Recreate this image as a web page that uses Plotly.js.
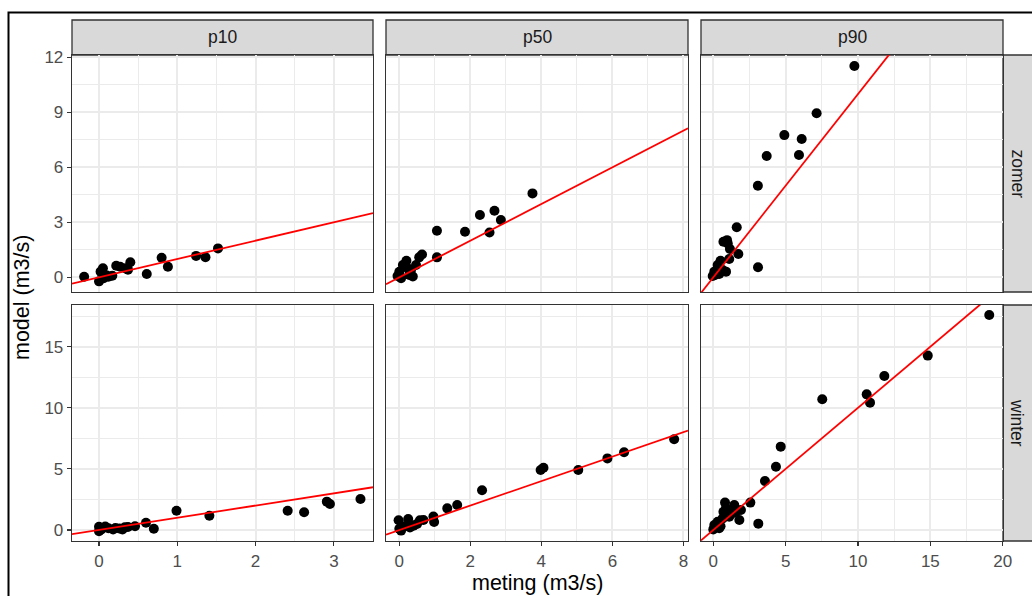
<!DOCTYPE html>
<html><head><meta charset="utf-8">
<script src="https://cdn.plot.ly/plotly-3.0.1.min.js"></script>
<style>html,body{margin:0;padding:0;background:#fff}#chart{width:1032px;height:596px}</style>
</head><body><div id="chart"></div>
<script>
// Categories
const percentiles = ['p10', 'p50', 'p90'];
const seasons = ['zomer', 'winter'];

// Tick labels per column (x) and per row (y)
const colTicks = [[0, 1, 2, 3], [0, 2, 4, 6, 8], [0, 5, 10, 15, 20]];
const rowTicks = [[0, 3, 6, 9, 12], [0, 5, 10, 15]];

// Data: meting (x) and model (y) per facet
const p10_zomer_meting = [-0.19, 0.0, 0.02, 0.05, 0.06, 0.1, 0.12, 0.17, 0.22, 0.27, 0.34, 0.37, 0.4, 0.61, 0.8, 0.88, 1.24, 1.36, 1.52];
const p10_zomer_model  = [0.03, -0.22, 0.31, 0.49, -0.05, 0.1, 0.03, 0.09, 0.63, 0.58, 0.49, 0.42, 0.82, 0.18, 1.07, 0.58, 1.17, 1.1, 1.58];

const p50_zomer_meting = [-0.05, 0.0, 0.05, 0.1, 0.2, 0.24, 0.28, 0.33, 0.38, 0.47, 0.56, 0.64, 1.06, 1.06, 1.85, 2.27, 2.54, 2.68, 2.86, 3.75];
const p50_zomer_model  = [0.07, 0.3, -0.05, 0.67, 0.9, 0.49, 0.13, 0.4, 0.05, 0.67, 1.09, 1.25, 1.09, 2.54, 2.49, 3.4, 2.45, 3.63, 3.13, 4.58];

const p90_zomer_meting = [-0.04, 0.07, 0.12, 0.3, 0.41, 0.5, 0.65, 0.7, 0.88, 0.95, 1.0, 1.1, 1.15, 1.73, 1.62, 3.08, 3.09, 3.69, 4.91, 5.92, 6.11, 7.14, 9.75];
const p90_zomer_model  = [0.07, 0.31, 0.13, 0.67, 0.18, 0.9, 0.4, 1.94, 0.31, 2.03, 1.85, 1.0, 1.55, 1.27, 2.73, 5.0, 0.55, 6.62, 7.76, 6.67, 7.55, 8.95, 11.53];

const p10_winter_meting = [0.0, 0.0, 0.03, 0.08, 0.12, 0.18, 0.21, 0.26, 0.3, 0.33, 0.37, 0.46, 0.6, 0.7, 0.99, 1.41, 2.41, 2.62, 2.91, 2.95, 3.34];
const p10_winter_model  = [0.27, -0.1, 0.05, 0.28, 0.15, 0.05, 0.16, 0.12, 0.05, 0.22, 0.25, 0.3, 0.6, 0.1, 1.58, 1.17, 1.58, 1.45, 2.32, 2.13, 2.54];

const p50_winter_meting = [-0.02, 0.0, 0.05, 0.15, 0.25, 0.3, 0.4, 0.5, 0.58, 0.68, 0.96, 0.98, 1.35, 1.63, 2.33, 3.98, 4.06, 5.04, 5.86, 6.33, 7.74];
const p50_winter_model  = [0.8, 0.1, -0.05, 0.3, 0.9, 0.2, 0.35, 0.5, 0.8, 0.82, 1.1, 0.65, 1.77, 2.05, 3.25, 4.91, 5.1, 4.91, 5.86, 6.36, 7.42];

const p90_winter_meting = [0.0, 0.07, 0.3, 0.41, 0.5, 0.65, 0.81, 0.88, 0.7, 1.1, 1.34, 1.45, 1.57, 1.8, 1.91, 2.56, 3.11, 3.57, 4.33, 4.66, 7.53, 10.6, 10.83, 11.82, 14.82, 19.07];
const p90_winter_model  = [0.05, 0.41, 0.68, 0.15, 0.3, 0.95, 2.24, 1.77, 1.5, 1.09, 1.37, 2.05, 1.5, 0.82, 1.64, 2.24, 0.52, 4.01, 5.18, 6.82, 10.7, 11.1, 10.42, 12.6, 14.27, 17.59];

const facetData = {
  zomer:  [[p10_zomer_meting, p10_zomer_model], [p50_zomer_meting, p50_zomer_model], [p90_zomer_meting, p90_zomer_model]],
  winter: [[p10_winter_meting, p10_winter_model], [p50_winter_meting, p50_winter_model], [p90_winter_meting, p90_winter_model]]
};

// ---- layout geometry (pixels) ----
const W = 1032, H = 596;
const colPx = [[72, 373], [386, 688], [701, 1003]];
const rowPx = [[55, 292], [305, 541]];
const colRange = [[-0.345, 3.50], [-0.375, 8.13], [-0.85, 20.02]];
const rowRange = [[-0.80, 12.13], [-0.90, 18.41]];
const colMinor = [0.5, 1, 2.5];
const rowMinor = [1.5, 2.5];

const px = x => x / W;
const py = y => (H - y) / H;

const FONT = 'Liberation Sans, Arial, sans-serif';
const traces = [];
const layout = {
  width: W, height: H,
  margin: {l: 0, r: 0, t: 0, b: 0},
  paper_bgcolor: '#ffffff', plot_bgcolor: '#ffffff',
  showlegend: false,
  font: {family: FONT},
  shapes: [], annotations: []
};

let idx = 0;
seasons.forEach((season, r) => {
  percentiles.forEach((pc, c) => {
    idx++;
    const xa = 'xaxis' + (idx === 1 ? '' : idx);
    const ya = 'yaxis' + (idx === 1 ? '' : idx);
    const xr = 'x' + (idx === 1 ? '' : idx);
    const yr = 'y' + (idx === 1 ? '' : idx);
    const isBottom = r === seasons.length - 1;
    const isLeft = c === 0;
    layout[xa] = {
      domain: [px(colPx[c][0]), px(colPx[c][1])],
      anchor: yr, range: colRange[c],
      tickmode: 'array', tickvals: colTicks[c], ticktext: colTicks[c].map(String),
      showticklabels: isBottom, ticks: isBottom ? 'outside' : '',
      ticklen: 4, tickwidth: 1.2, tickcolor: '#333333',
      tickfont: {family: FONT, size: 17, color: '#4D4D4D'},
      showgrid: true, gridcolor: '#EBEBEB', gridwidth: 2,
      minor: {dtick: colMinor[c], tick0: 0, showgrid: true, gridcolor: '#EBEBEB', gridwidth: 1, ticks: ''},
      zeroline: false, showline: true, mirror: true, linecolor: '#333333', linewidth: 1.3,
      fixedrange: true
    };
    layout[ya] = {
      domain: [py(rowPx[r][1]), py(rowPx[r][0])],
      anchor: xr, range: rowRange[r],
      tickmode: 'array', tickvals: rowTicks[r], ticktext: rowTicks[r].map(String),
      showticklabels: isLeft, ticks: isLeft ? 'outside' : '',
      ticklen: 4, tickwidth: 1.2, tickcolor: '#333333',
      tickfont: {family: FONT, size: 17, color: '#4D4D4D'},
      showgrid: true, gridcolor: '#EBEBEB', gridwidth: 2,
      minor: {dtick: rowMinor[r], tick0: 0, showgrid: true, gridcolor: '#EBEBEB', gridwidth: 1, ticks: ''},
      zeroline: false, showline: true, mirror: true, linecolor: '#333333', linewidth: 1.3,
      fixedrange: true
    };
    const [mx, my] = facetData[season][c];
    traces.push({
      type: 'scatter', mode: 'markers', x: mx, y: my, xaxis: xr, yaxis: yr,
      marker: {color: '#000000', size: 10}, hoverinfo: 'x+y'
    });
    // 1:1 reference line across the panel's x range
    traces.push({
      type: 'scatter', mode: 'lines', x: colRange[c], y: colRange[c], xaxis: xr, yaxis: yr,
      line: {color: '#FF0000', width: 1.8}, hoverinfo: 'skip'
    });
  });
});

// top strips
percentiles.forEach((pc, c) => {
  layout.shapes.push({type: 'rect', xref: 'paper', yref: 'paper',
    x0: px(colPx[c][0]), x1: px(colPx[c][1]), y0: py(55), y1: py(20),
    fillcolor: '#D9D9D9', line: {color: '#333333', width: 1.3}, layer: 'below'});
  layout.annotations.push({xref: 'paper', yref: 'paper', x: px((colPx[c][0] + colPx[c][1]) / 2), y: py(37.5),
    text: pc, showarrow: false, xanchor: 'center', yanchor: 'middle',
    font: {family: FONT, size: 17.5, color: '#1A1A1A'}});
});
// right strips
seasons.forEach((s, r) => {
  layout.shapes.push({type: 'rect', xref: 'paper', yref: 'paper',
    x0: px(1003), x1: px(1038), y0: py(rowPx[r][1]), y1: py(rowPx[r][0]),
    fillcolor: '#D9D9D9', line: {color: '#333333', width: 1.3}, layer: 'below'});
  layout.annotations.push({xref: 'paper', yref: 'paper', x: px(1017), y: py((rowPx[r][0] + rowPx[r][1]) / 2),
    text: s, showarrow: false, textangle: 90, xanchor: 'center', yanchor: 'middle',
    font: {family: FONT, size: 17.5, color: '#1A1A1A'}});
});
// axis titles
layout.annotations.push({xref: 'paper', yref: 'paper', x: px(537), y: py(583),
  text: 'meting (m3/s)', showarrow: false, xanchor: 'center', yanchor: 'middle',
  font: {family: FONT, size: 21.5, color: '#000000'}});
layout.annotations.push({xref: 'paper', yref: 'paper', x: px(22), y: py(298),
  text: 'model (m3/s)', showarrow: false, textangle: -90, xanchor: 'center', yanchor: 'middle',
  font: {family: FONT, size: 21.5, color: '#000000'}});
// outer frame
layout.shapes.push({type: 'rect', xref: 'paper', yref: 'paper',
  x0: px(8.5), x1: px(1045), y0: py(610), y1: py(12.5),
  line: {color: '#000000', width: 2}, fillcolor: 'rgba(0,0,0,0)', layer: 'above'});

Plotly.newPlot('chart', traces, layout, {staticPlot: true, displayModeBar: false});
</script>
</body></html>
